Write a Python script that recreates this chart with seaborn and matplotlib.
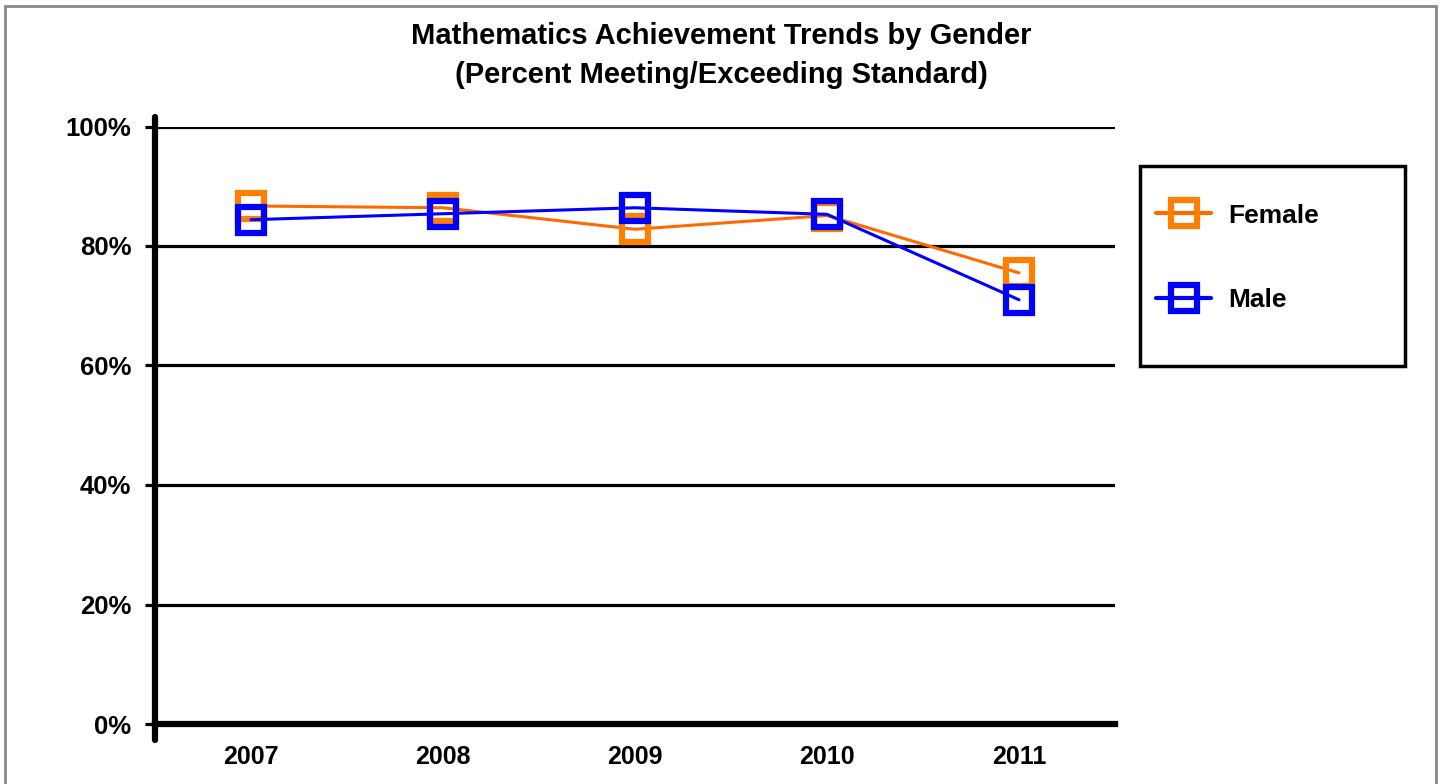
import pandas as pd
import matplotlib.pyplot as plt
import seaborn as sns
from matplotlib.patches import Rectangle
from matplotlib.ticker import FuncFormatter

sns.set_style("white")
plt.rcParams["font.family"] = ["Liberation Sans", "DejaVu Sans"]
plt.rcParams["font.weight"] = "bold"
plt.rcParams["text.color"] = "black"
plt.rcParams["xtick.color"] = "black"
plt.rcParams["ytick.color"] = "black"

# Values (percent meeting/exceeding standard)
years = ["2007", "2008", "2009", "2010", "2011"]
female = [86.7, 86.4, 82.8, 85.1, 75.5]
male = [84.4, 85.4, 86.4, 85.3, 71.0]
y_ticks = [0, 20, 40, 60, 80, 100]

df = pd.DataFrame({
    "year": years * 2,
    "pct": female + male,
    "gender": ["Female"] * len(years) + ["Male"] * len(years),
})

colors = {"Female": "#FF6A00", "Male": "#0000FF"}
marker_colors = {"Female": "#FF8000", "Male": "#0000FF"}

fig = plt.figure(figsize=(14.42, 7.84), dpi=100)
ax = fig.add_axes([155 / 1442, 1 - 724 / 784, (1115 - 155) / 1442, (724 - 126.5) / 784])

sns.lineplot(data=df, x="year", y="pct", hue="gender", palette=colors,
             marker="s", markersize=18.5, linewidth=2.2, ax=ax, legend=False)

for line, g in zip(ax.lines, ["Female", "Male"]):
    line.set_markerfacecolor("none")
    line.set_markeredgecolor(marker_colors[g])
    line.set_markeredgewidth(4.5)

ax.set_xlim(-0.5, len(years) - 0.5)
ax.set_ylim(0, 100)
ax.set_yticks(y_ticks)
ax.yaxis.set_major_formatter(FuncFormatter(lambda v, p: f"{v:.0f}%"))
ax.grid(axis="y", color="black", linewidth=2.3)
ax.set_axisbelow(True)
ax.set_xlabel("")
ax.set_ylabel("")

for side in ["top", "right", "left"]:
    ax.spines[side].set_visible(False)
ax.spines["bottom"].set_linewidth(4.5)
ax.spines["bottom"].set_color("black")
# thick vertical axis line, running a little past both ends
ax.axvline(-0.5, ymin=-0.027, ymax=1.016, color="black", linewidth=4.5, clip_on=False, zorder=5)

ax.tick_params(axis="y", length=7, width=2.3, color="black", direction="out",
               left=True, pad=10, labelsize=18.5)
ax.tick_params(axis="x", length=0, pad=15, labelsize=18)

fig.text(0.5, 1 - 36 / 784, "Mathematics Achievement Trends by Gender",
         ha="center", va="center", fontsize=21, fontweight="bold")
fig.text(0.5, 1 - 75 / 784, "(Percent Meeting/Exceeding Standard)",
         ha="center", va="center", fontsize=21, fontweight="bold")

# legend box
fig.patches.append(Rectangle((1140 / 1442, 1 - 366 / 784), 265 / 1442, 200 / 784,
                             transform=fig.transFigure, fill=False,
                             edgecolor="black", linewidth=2.5))
handles = []
for g in ["Female", "Male"]:
    h, = ax.plot([], [], color=colors[g], linewidth=3, marker="s", markersize=18.5,
                 markerfacecolor="none", markeredgewidth=4.5,
                 markeredgecolor=marker_colors[g])
    handles.append(h)
fig.legend(handles, ["Female", "Male"], loc="center left",
           bbox_to_anchor=(1156 / 1442, 1 - 258 / 784), frameon=False,
           fontsize=19, handlelength=2.1, handletextpad=0.65, labelspacing=2.3,
           borderpad=0, borderaxespad=0)

# outer grey frame
fig.patches.append(Rectangle((5 / 1442, -0.05), 1431 / 1442, 1.05 - 6 / 784,
                             transform=fig.transFigure, fill=False,
                             edgecolor="#888888", linewidth=2))

fig.savefig("out.png", dpi=100)
